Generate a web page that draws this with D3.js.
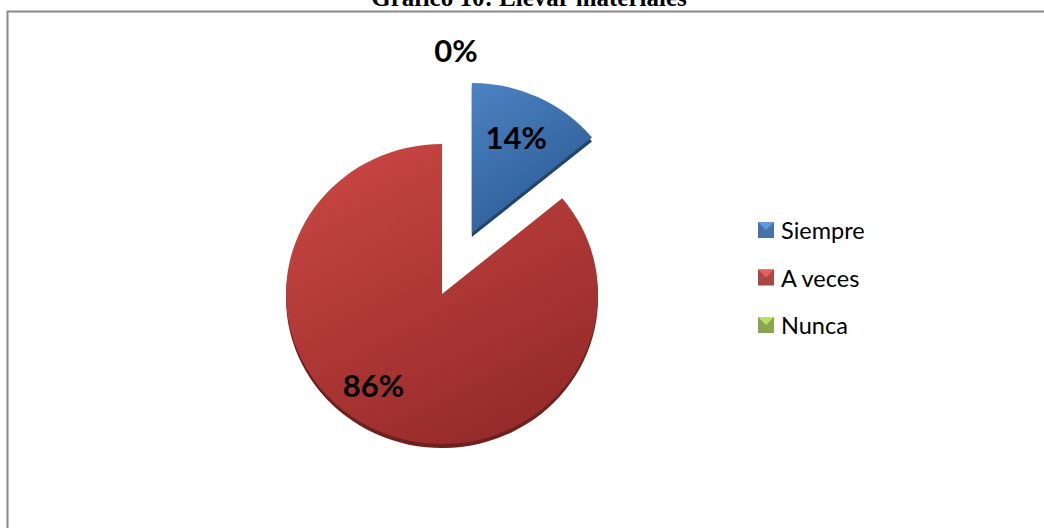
<!DOCTYPE html>
<html>
<head>
<meta charset="utf-8">
<script src="https://cdn.jsdelivr.net/npm/d3@7"></script>
<style>
  body { margin: 0; background: #fff; }
  svg { display: block; }
</style>
</head>
<body>
<div id="chart"></div>
<script>
// data
var categories = ["Siempre", "A veces", "Nunca"];
var values = [14, 86, 0];
var labels = ["14%", "86%", "0%"];
var colors = ["#4F81BD", "#C0504D", "#9BBB59"];
var title = "Gráfico 10: Llevar materiales";

var W = 1044, H = 528;
var svg = d3.select("#chart").append("svg")
  .attr("width", W).attr("height", H);

// shading: light top-left, darker bottom-right
var topShade = ["#4c82c4", "#cc4845", "#a6c468"];
var lowShade = ["#2d5c95", "#982c2a", "#6f8c3a"];
var defs = svg.append("defs");
colors.forEach(function(c, i) {
  var g = defs.append("linearGradient").attr("id", "grad" + i)
    .attr("x1", "0").attr("y1", "0").attr("x2", "0.55").attr("y2", "1");
  g.append("stop").attr("offset", "0%").attr("stop-color", topShade[i]);
  g.append("stop").attr("offset", "100%").attr("stop-color", lowShade[i]);
});

// frame (only top and left are visible in the reference)
svg.append("path")
  .attr("d", "M7.5," + H + "V11.5H" + W)
  .attr("fill", "none").attr("stroke", "#8a8a8a").attr("stroke-width", 2);

// title, cut off at the top like the reference
svg.append("text")
  .attr("x", 529).attr("y", 6)
  .attr("text-anchor", "middle")
  .attr("font-family", "Liberation Serif, Times New Roman, serif")
  .attr("font-weight", "bold").attr("font-size", 25)
  .text(title);

var cx = 442, cy = 294, r = 156, squash = 0.962, depth = 4, explode = 70;

var pie = d3.pie().sort(null).value(function(d) { return d; });
var arcs = pie(values);
var arc = d3.arc().innerRadius(0).outerRadius(r);

var pieG = svg.append("g");

function offsetOf(d, i) {
  if (i !== 0) return [0, 0];
  var a = (d.startAngle + d.endAngle) / 2;
  return [Math.sin(a) * explode, -Math.cos(a) * explode];
}

// side / thickness
pieG.selectAll("path.side").data(arcs).enter().append("path")
  .attr("class", "side")
  .attr("transform", function(d, i) {
    var o = offsetOf(d, i);
    return "translate(" + (cx + o[0]) + "," + (cy + o[1] * squash + depth) + ") scale(1," + squash + ")";
  })
  .attr("d", arc)
  .attr("fill", function(d, i) { return d3.color(lowShade[i]).darker(0.9); });

// top faces
pieG.selectAll("path.top").data(arcs).enter().append("path")
  .attr("class", "top")
  .attr("transform", function(d, i) {
    var o = offsetOf(d, i);
    return "translate(" + (cx + o[0]) + "," + (cy + o[1] * squash) + ") scale(1," + squash + ")";
  })
  .attr("d", arc)
  .attr("fill", function(d, i) { return "url(#grad" + i + ")"; });

// data labels
var labelArc = d3.arc().innerRadius(r * 0.7).outerRadius(r * 0.7);
var nudge = [[-2, -1], [-22, -4], [14, -244]];
svg.selectAll("text.lbl").data(arcs).enter().append("text")
  .attr("class", "lbl")
  .attr("x", function(d, i) {
    var o = offsetOf(d, i);
    if (d.value === 0) return cx + nudge[i][0];
    return cx + o[0] + labelArc.centroid(d)[0] + nudge[i][0];
  })
  .attr("y", function(d, i) {
    var o = offsetOf(d, i);
    if (d.value === 0) return cy + nudge[i][1];
    return cy + o[1] * squash + labelArc.centroid(d)[1] * squash + nudge[i][1];
  })
  .attr("text-anchor", "middle").attr("dominant-baseline", "central")
  .attr("font-family", "Lato, sans-serif").attr("font-weight", "bold")
  .attr("font-size", 31).attr("fill", "#000")
  .text(function(d, i) { return labels[i]; });

// legend
var legend = svg.append("g").attr("transform", "translate(758,230)");
var item = legend.selectAll("g").data(categories).enter().append("g")
  .attr("transform", function(d, i) { return "translate(0," + (i * 47.5) + ")"; });
item.append("rect")
  .attr("x", 0).attr("y", -8).attr("width", 16).attr("height", 16)
  .attr("fill", function(d, i) { return d3.color(colors[i]).darker(0.35); });
item.append("path")
  .attr("d", "M0,-8H16L8,0Z")
  .attr("fill", function(d, i) { return d3.color(colors[i]).brighter(0.5); });
item.append("text")
  .attr("x", 23).attr("y", 0)
  .attr("dominant-baseline", "central")
  .attr("font-family", "Lato, sans-serif").attr("font-size", 23.5)
  .attr("fill", "#000")
  .text(function(d) { return d; });
</script>
</body>
</html>
